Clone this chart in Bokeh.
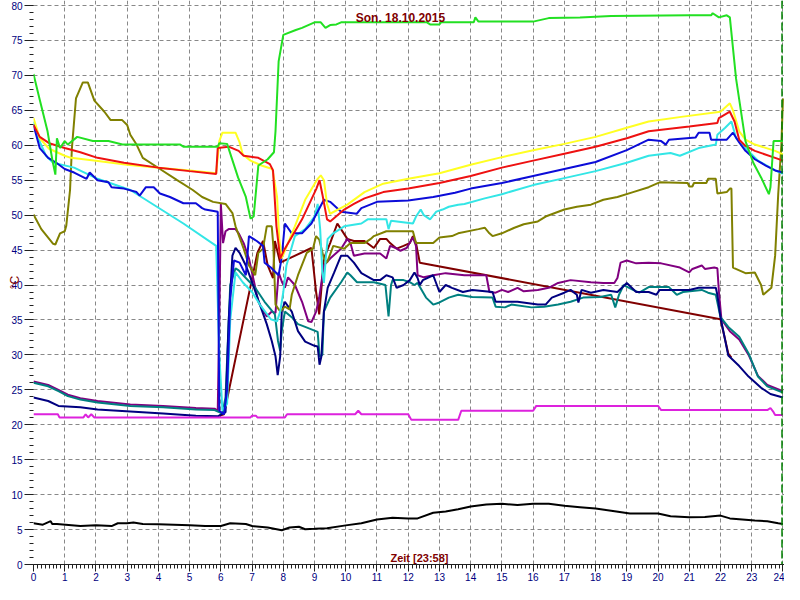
from bokeh.plotting import figure
from bokeh.models import Range1d, SingleIntervalTicker, Label, Span
from bokeh.embed import file_html
from bokeh.resources import INLINE

TITLE = "Son. 18.10.2015"
X_LABEL = "Zeit [23:58]"
Y_LABEL = "°C"
NOW_HOUR = 23.97

black = [(0,5.9),(0.3,5.7),(0.55,6.2),(0.6,5.8),(0.75,5.8),(1.5,5.5),(2.0,5.6),(2.5,5.5),(2.7,5.9),(3.0,5.9),(3.2,6.0),(3.5,5.8),(4.0,5.75),(4.5,5.7),(5.0,5.6),(5.5,5.5),(6.0,5.5),(6.3,5.9),(6.8,5.8),(7.0,5.5),(7.5,5.3),(7.95,4.9),(8.2,5.3),(8.5,5.4),(8.7,5.05),(9.0,5.1),(9.4,5.2),(10.0,5.6),(10.5,5.9),(11.0,6.45),(11.5,6.7),(12.0,6.6),(12.3,6.6),(12.8,7.4),(13.2,7.6),(13.6,7.9),(14.0,8.3),(14.5,8.6),(15.0,8.7),(15.5,8.5),(16.0,8.7),(16.5,8.7),(17.0,8.4),(17.5,8.2),(18.0,8.0),(18.5,7.7),(19.1,7.3),(20.0,7.3),(20.4,6.9),(21.0,6.75),(21.5,6.8),(22.0,7.0),(22.3,6.6),(23.1,6.3),(23.5,6.2),(23.85,5.9),(24.0,5.8)]

magenta = [(0,21.5),(0.78,21.5),(0.83,21.05),(1.6,21.05),(1.67,21.5),(1.75,21.05),(1.85,21.5),(1.95,21.05),(6.95,21.05),(7.0,21.3),(7.12,21.3),(7.17,21.05),(8.05,21.05),(8.12,21.5),(10.3,21.5),(10.4,22.0),(10.5,21.5),(12.0,21.5),(12.1,20.7),(13.6,20.7),(13.7,22.0),(16.0,22.0),(16.1,22.7),(20.0,22.7),(20.1,22.1),(23.5,22.1),(23.6,22.4),(23.7,21.8),(23.75,21.4),(24.0,21.4)]

green = [(0,70.2),(0.2,66.5),(0.45,62.0),(0.6,58.0),(0.7,55.8),(0.75,61.0),(0.85,59.6),(1.0,60.6),(1.1,60.1),(1.4,61.2),(1.9,60.6),(2.4,60.6),(2.85,60.1),(4.7,60.1),(4.8,59.8),(5.9,59.8),(5.95,60.3),(6.2,60.2),(6.55,55.4),(6.8,52.6),(6.95,49.5),(7.05,49.8),(7.2,57.1),(7.5,58.0),(7.7,59.0),(7.75,62.0),(7.85,72.0),(8.0,75.8),(8.4,76.5),(8.6,76.8),(9.0,77.6),(9.2,77.6),(9.35,76.8),(9.5,77.2),(9.7,77.3),(9.85,77.6),(12.6,77.6),(12.7,77.3),(13.0,77.3),(13.05,77.6),(14.1,77.6),(14.15,78.3),(14.25,77.7),(16.0,77.7),(16.5,78.2),(17.5,78.3),(18.5,78.5),(21.0,78.6),(21.7,78.6),(21.75,78.9),(21.95,78.3),(22.2,78.6),(22.3,78.3),(22.5,69.5),(22.8,60.6),(23.05,57.5),(23.3,55.4),(23.55,53.0),(23.6,54.0),(23.7,60.6),(24.0,60.6)]

yellow = [(0,63.9),(0.2,61.0),(0.5,59.5),(1.0,58.5),(1.2,58.2),(2.0,57.8),(3.0,57.2),(4.0,56.8),(5.0,56.4),(5.85,56.0),(5.95,60.6),(6.05,61.8),(6.47,61.8),(6.6,60.4),(6.7,58.7),(6.95,57.8),(7.3,57.1),(7.65,56.6),(7.8,52.6),(7.87,46.6),(7.95,43.8),(8.37,48.4),(8.7,52.2),(9.1,55.2),(9.2,55.7),(9.3,55.0),(9.4,51.6),(9.5,50.2),(10.05,51.5),(10.6,53.3),(11.2,54.5),(12.0,55.2),(13.0,56.0),(14.0,57.2),(15.0,58.3),(16.0,59.3),(17.0,60.2),(18.0,61.2),(19.0,62.5),(19.7,63.4),(20.8,64.1),(22.0,64.8),(22.3,66.0),(22.4,65.0),(22.6,62.0),(22.8,60.8),(23.1,60.1),(23.75,59.2),(24.0,58.7)]

red = [(0,62.9),(0.2,61.2),(0.5,60.3),(1.0,59.6),(1.5,59.0),(2.05,58.2),(2.9,57.5),(4.0,56.8),(5.0,56.3),(5.85,55.9),(5.9,59.6),(6.25,59.8),(6.57,59.2),(6.73,58.5),(7.2,58.2),(7.57,57.3),(7.67,56.4),(7.78,48.4),(7.9,43.8),(8.05,45.2),(8.6,49.4),(9.06,53.8),(9.16,55.0),(9.25,53.0),(9.4,49.4),(9.5,49.1),(9.95,50.8),(10.26,51.6),(10.6,52.4),(11.0,53.0),(11.2,53.3),(12.0,53.8),(13.0,54.6),(14.0,55.6),(15.0,56.8),(16.0,57.8),(17.0,58.8),(18.0,59.8),(19.0,61.0),(19.7,62.0),(21.0,62.7),(21.9,63.2),(21.95,63.9),(22.3,64.8),(22.45,63.4),(22.6,60.8),(22.8,59.9),(23.1,59.2),(23.75,58.2),(24.0,57.8)]

blue = [(0,62.9),(0.2,59.6),(0.47,58.2),(0.73,57.5),(1.0,56.6),(1.3,56.1),(1.7,55.2),(1.8,56.1),(2.05,55.0),(2.4,54.7),(2.5,54.0),(2.9,53.8),(3.3,53.3),(3.4,52.8),(3.6,54.0),(3.85,54.0),(4.05,53.1),(4.37,52.6),(4.8,51.7),(5.2,51.7),(5.4,51.0),(5.5,50.8),(5.9,50.5),(5.95,22.0),(6.1,21.5),(6.2,25.0),(6.3,38.0),(6.42,43.5),(6.6,43.2),(6.8,41.4),(6.9,47.0),(7.15,46.3),(7.35,45.6),(7.4,43.2),(7.6,42.5),(7.85,41.4),(7.95,44.0),(8.05,48.8),(8.27,47.4),(8.6,47.4),(8.9,48.8),(9.3,52.2),(9.5,51.9),(9.85,50.5),(10.35,50.2),(10.5,51.0),(11.0,51.9),(12.0,52.1),(12.8,52.6),(13.5,53.2),(14.0,53.8),(15.0,54.6),(16.0,55.6),(17.0,56.6),(18.0,57.6),(19.0,59.3),(19.7,60.8),(20.1,60.6),(20.25,60.1),(20.35,60.8),(21.2,61.1),(21.3,61.8),(21.65,61.8),(21.7,60.8),(22.2,60.8),(22.4,61.8),(22.6,60.4),(22.8,59.2),(23.1,58.0),(23.45,57.1),(23.75,56.4),(24.0,56.1)]

cyan = [(0,63.4),(0.2,60.5),(0.4,58.5),(0.63,57.5),(1.3,56.8),(2.05,55.2),(3.1,53.6),(3.95,51.2),(4.8,48.8),(5.85,45.6),(5.95,30.0),(6.05,22.0),(6.2,23.0),(6.3,35.0),(6.47,41.8),(6.7,40.4),(7.0,39.0),(7.25,37.2),(7.6,35.1),(7.8,34.8),(7.9,36.2),(8.0,39.0),(8.1,42.8),(8.37,47.0),(8.7,48.0),(9.0,49.8),(9.1,51.6),(9.18,48.0),(9.25,41.8),(9.3,40.3),(9.36,43.8),(9.42,46.6),(9.6,47.4),(9.95,48.4),(10.5,48.8),(10.7,49.4),(11.3,49.4),(11.37,48.0),(11.45,49.2),(12.15,48.8),(12.25,49.8),(12.4,50.8),(12.5,50.0),(12.7,49.4),(12.9,50.5),(13.1,50.8),(13.3,51.2),(13.6,51.5),(13.8,51.6),(14.45,52.4),(15.0,53.0),(16.0,54.3),(17.0,55.3),(18.0,56.3),(19.0,57.5),(19.7,58.5),(20.4,58.9),(20.7,58.5),(21.3,59.6),(21.85,60.1),(21.9,61.5),(22.15,62.5),(22.35,63.4),(22.5,61.0),(22.8,59.6),(23.2,57.8),(23.75,56.4),(24.0,55.9)]

olive = [(0,50.1),(0.25,48.0),(0.63,45.9),(0.7,45.8),(0.85,47.4),(1.0,47.7),(1.05,48.5),(1.17,53.6),(1.23,59.6),(1.36,66.7),(1.58,69.0),(1.74,69.0),(1.95,66.4),(2.27,64.8),(2.47,63.6),(2.84,63.6),(3.0,62.9),(3.1,61.5),(3.3,60.1),(3.5,58.2),(4.05,56.6),(4.6,55.0),(5.1,53.6),(5.4,52.6),(5.75,51.9),(6.15,51.6),(6.37,50.3),(6.47,48.4),(6.73,45.2),(6.9,42.8),(7.1,41.4),(7.2,44.6),(7.35,45.2),(7.47,48.4),(7.63,48.4),(7.68,45.6),(7.75,37.2),(7.9,36.2),(8.05,36.9),(8.2,36.5),(8.27,38.6),(8.47,41.4),(8.75,44.6),(8.95,45.2),(9.05,47.0),(9.15,46.5),(9.3,43.8),(9.4,43.2),(9.6,45.6),(9.95,45.2),(10.15,46.0),(10.6,46.0),(10.8,46.6),(10.9,47.0),(11.3,47.7),(12.15,47.7),(12.25,46.0),(12.8,46.0),(13.0,46.8),(13.4,47.0),(13.6,47.4),(14.25,48.0),(14.45,48.2),(14.6,47.4),(14.7,47.0),(15.0,47.4),(15.4,48.2),(15.7,48.7),(16.15,49.1),(16.4,49.8),(17.0,50.8),(17.4,51.2),(17.85,51.5),(18.25,52.2),(18.7,52.6),(19.2,53.3),(19.7,54.0),(20.05,54.7),(20.95,54.6),(21.0,54.1),(21.1,54.1),(21.15,54.6),(21.55,54.6),(21.6,55.2),(21.85,55.2),(21.9,53.1),(22.2,53.3),(22.3,53.8),(22.35,53.8),(22.4,42.5),(22.8,41.7),(23.1,41.8),(23.3,40.0),(23.37,38.6),(23.63,39.6),(23.75,44.2),(23.85,53.1),(23.95,60.1),(24.0,66.7)]

purple = [(0,26.2),(0.47,25.7),(0.8,25.0),(1.1,24.3),(1.5,23.8),(2.05,23.4),(3.1,22.9),(4.15,22.7),(5.2,22.4),(5.8,22.3),(5.9,22.0),(5.95,35.0),(6.0,51.6),(6.07,46.0),(6.15,47.7),(6.25,48.0),(6.47,48.0),(6.57,47.4),(6.73,46.0),(6.9,43.8),(7.2,37.6),(7.47,35.5),(7.63,36.2),(7.75,36.0),(7.85,41.8),(7.95,40.5),(8.05,39.6),(8.15,41.1),(8.37,40.0),(8.6,37.6),(8.8,34.8),(8.9,34.7),(9.05,36.2),(9.15,38.2),(9.3,42.8),(9.5,43.8),(9.85,45.2),(10.05,46.6),(10.15,46.0),(10.26,44.2),(10.6,44.5),(11.1,44.5),(11.3,43.8),(11.42,45.6),(11.6,45.3),(11.75,44.9),(11.95,45.3),(12.15,46.8),(12.25,45.6),(12.3,41.4),(12.5,41.1),(12.8,41.4),(13.2,41.7),(13.8,41.4),(14.5,41.4),(14.6,39.0),(14.8,38.9),(15.0,39.3),(15.2,39.0),(15.5,39.6),(15.7,39.1),(16.15,39.3),(16.5,39.6),(16.8,40.3),(17.2,40.7),(17.85,40.4),(18.25,40.3),(18.6,40.3),(18.7,41.0),(18.8,43.2),(19.0,43.5),(19.3,43.1),(19.7,43.2),(20.1,43.1),(20.7,42.5),(21.0,41.8),(21.1,42.3),(21.4,42.8),(21.5,42.3),(21.8,42.5),(21.9,42.4),(21.95,39.0),(22.03,35.1),(22.3,33.4),(22.6,32.2),(22.9,30.0),(23.2,27.0),(23.5,25.7),(24.0,24.8)]

navy = [(0,23.9),(0.47,23.4),(0.8,22.7),(1.5,22.5),(2.05,22.2),(3.1,21.9),(4.15,21.6),(5.2,21.3),(5.9,21.2),(6.15,21.8),(6.25,34.8),(6.37,44.2),(6.47,45.3),(6.6,44.6),(6.8,42.8),(7.0,40.4),(7.25,37.2),(7.47,34.4),(7.63,32.0),(7.75,29.8),(7.82,27.1),(7.9,29.8),(7.95,36.2),(8.05,37.6),(8.27,36.2),(8.47,33.4),(8.7,31.9),(9.0,31.3),(9.1,31.2),(9.16,28.6),(9.22,29.8),(9.3,36.2),(9.42,39.6),(9.63,41.8),(9.85,44.2),(10.05,44.2),(10.26,43.2),(10.5,41.7),(10.9,40.7),(11.1,40.7),(11.3,41.4),(11.5,41.1),(11.63,39.6),(11.85,40.0),(12.05,40.7),(12.2,41.8),(12.3,41.0),(12.37,40.0),(12.47,40.7),(12.8,41.4),(13.0,39.0),(13.2,40.0),(13.4,39.6),(13.75,39.0),(14.05,39.3),(14.7,39.0),(14.8,37.6),(15.5,37.6),(16.15,37.2),(16.4,37.2),(16.6,38.2),(17.0,38.9),(17.2,39.3),(17.4,38.6),(17.45,37.5),(17.55,39.3),(17.85,38.9),(18.25,39.3),(18.7,39.0),(19.0,40.3),(19.3,39.0),(19.7,39.0),(19.95,38.6),(20.05,39.3),(21.0,39.3),(21.3,39.6),(21.85,39.6),(21.9,38.6),(22.0,35.4),(22.25,29.9),(22.6,28.4),(22.9,26.9),(23.3,25.3),(23.6,24.4),(24.0,23.9)]

teal = [(0,26.0),(0.47,25.5),(0.8,24.8),(1.1,24.1),(1.5,23.6),(2.05,23.2),(3.1,22.7),(4.15,22.5),(5.2,22.2),(5.8,22.1),(6.05,21.6),(6.15,24.0),(6.3,40.0),(6.47,42.4),(6.57,42.1),(6.8,41.0),(7.1,39.6),(7.4,37.6),(7.73,35.8),(7.83,32.0),(7.9,30.6),(7.95,33.4),(8.05,36.2),(8.27,35.4),(8.47,34.4),(8.7,34.0),(9.1,33.3),(9.16,29.8),(9.25,30.0),(9.3,36.2),(9.5,38.2),(9.85,40.4),(10.05,41.8),(10.15,41.4),(10.36,40.4),(10.9,40.4),(11.27,40.0),(11.37,35.5),(11.45,40.0),(11.5,40.7),(11.85,40.7),(12.05,40.4),(12.2,40.0),(12.3,40.3),(12.57,38.2),(12.8,37.2),(13.0,37.5),(13.3,38.2),(13.6,38.6),(14.05,38.3),(14.7,38.2),(14.8,36.9),(15.1,36.8),(15.3,37.2),(15.95,36.8),(16.35,36.9),(16.8,37.2),(17.2,37.6),(17.6,38.2),(18.15,38.3),(18.5,38.6),(18.63,36.8),(18.75,38.6),(18.9,40.0),(19.2,39.3),(19.4,38.9),(19.7,39.7),(20.35,39.7),(20.6,38.6),(20.8,39.0),(21.4,39.3),(21.6,38.9),(21.85,38.6),(22.0,35.4),(22.25,34.0),(22.6,32.6),(22.9,30.2),(23.2,26.9),(23.5,25.5),(24.0,24.6)]

maroon = [(5.95,21.3),(6.1,21.5),(7.17,44.6),(7.35,46.3),(7.5,42.8),(7.67,41.0),(7.73,46.3),(7.9,43.2),(8.9,45.3),(9.05,39.0),(9.15,35.8),(9.3,43.8),(9.5,46.0),(9.73,48.8),(10.05,46.6),(10.26,46.3),(10.6,46.3),(10.9,45.3),(11.1,46.6),(11.3,46.6),(11.42,46.0),(11.63,45.2),(11.85,45.6),(12.05,46.0),(12.15,47.0),(12.25,46.0),(12.37,43.2),(22.0,35.1),(22.25,30.2),(22.35,29.6)]

# drawing order (bottom first) and colours
series = [
    (maroon, "#800000"),
    (purple, "#800080"),
    (teal, "#008080"),
    (navy, "#000080"),
    (magenta, "#dd22dd"),
    (black, "#000000"),
    (olive, "#808000"),
    (cyan, "#33e6e6"),
    (blue, "#0c0cd8"),
    (yellow, "#ffff22"),
    (red, "#ee1111"),
    (green, "#22e022"),
]

p = figure(width=784, height=584, x_range=Range1d(0, 24.05), y_range=Range1d(0, 80.72),
           output_backend="svg", toolbar_location=None, title=None,
           min_border_left=33, min_border_right=0, min_border_top=0, min_border_bottom=20)
p.background_fill_color = "white"
p.border_fill_color = "white"
p.outline_line_color = None

for data, col in series:
    xs = [a for a, b in data]
    ys = [b for a, b in data]
    p.line(xs, ys, line_color=col, line_width=2)

p.add_layout(Span(location=NOW_HOUR, dimension="height", line_color="#008000",
                  line_dash="8 3", line_width=1.5))

xa = p.xaxis[0]
xa.ticker = SingleIntervalTicker(interval=1, num_minor_ticks=8)
xa.major_tick_out = 7
xa.major_tick_in = 0
xa.minor_tick_out = 4
xa.minor_tick_in = 0
xa.major_label_standoff = 1
xa.axis_line_color = "#202020"
xa.major_tick_line_color = "#202020"
xa.minor_tick_line_color = "#202020"
xa.major_label_text_color = "#000080"
xa.major_label_text_font = "Liberation Sans"
xa.major_label_text_font_size = "10px"

ya = p.yaxis[0]
ya.ticker = SingleIntervalTicker(interval=5, num_minor_ticks=5)
ya.major_tick_out = 9
ya.major_tick_in = 0
ya.minor_tick_out = 4
ya.minor_tick_in = 0
ya.major_label_standoff = 2
ya.axis_line_color = None
ya.major_tick_line_color = "#202020"
ya.minor_tick_line_color = "#202020"
ya.major_label_text_color = "#000080"
ya.major_label_text_font = "Liberation Sans"
ya.major_label_text_font_size = "10px"
ya.axis_label = Y_LABEL
ya.axis_label_text_color = "#800000"
ya.axis_label_text_font = "Liberation Sans"
ya.axis_label_text_font_size = "12px"
ya.axis_label_text_font_style = "normal"
ya.axis_label_standoff = -14

for g in (p.xgrid[0], p.ygrid[0]):
    g.grid_line_color = "#888888"
    g.grid_line_dash = "4 3"
    g.grid_line_width = 1

p.add_layout(Label(x=11.75, y=78.25, text=TITLE, text_align="center", text_baseline="middle",
                   text_font="Liberation Sans", text_font_style="bold", text_font_size="12px",
                   text_color="#800000"))
p.add_layout(Label(x=12.36, y=0.9, text=X_LABEL, text_align="center", text_baseline="middle",
                   text_font="Liberation Sans", text_font_style="bold", text_font_size="11px",
                   text_color="#800000"))

open("out.html", "w").write(file_html(p, INLINE))
